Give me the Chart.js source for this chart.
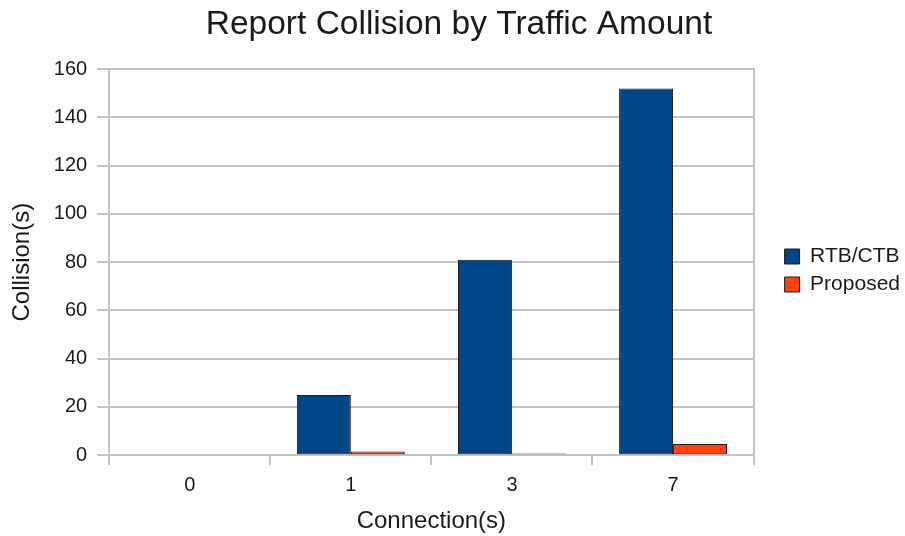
<!DOCTYPE html>
<html>
<head>
<meta charset="utf-8">
<script src="https://cdn.jsdelivr.net/npm/chart.js@4"></script>
<style>
html,body{margin:0;padding:0;background:#fff;}
#wrap{width:905px;height:536px;}
</style>
</head>
<body>
<div id="wrap"><canvas id="c" width="905" height="536"></canvas></div>
<script>
const categories = ['0', '1', '3', '7'];
const rtbCtb = [0, 25, 81, 152];
const proposed = [0, 1.5, 0.7, 4.6];
const seriesNames = ['RTB/CTB', 'Proposed'];
const yTicks = [0, 20, 40, 60, 80, 100, 120, 140, 160];

const FONT = "'Liberation Sans', Arial, sans-serif";
const GRID = '#c3c3c3';
const TXT = '#1a1a1a';
new Chart(document.getElementById('c'), {
  type: 'bar',
  data: {
    labels: categories,
    datasets: [
      { label: seriesNames[0], data: rtbCtb, backgroundColor: '#004586', borderColor: '#1c1c1c', borderWidth: 1, borderSkipped: false },
      { label: seriesNames[1], data: proposed, backgroundColor: '#ff420e', borderColor: '#1c1c1c', borderWidth: 1, borderSkipped: false }
    ]
  },
  options: {
    responsive: false,
    animation: false,
    devicePixelRatio: 1,
    layout: { padding: { left: 8, right: -5, top: 5, bottom: 0 } },
    datasets: { bar: { categoryPercentage: 0.67, barPercentage: 1.0 } },
    plugins: {
      title: {
        display: true,
        text: 'Report Collision by Traffic Amount',
        color: TXT,
        font: { family: FONT, size: 33.5, weight: 'normal' },
        padding: { top: 0, bottom: 24 }
      },
      legend: {
        position: 'right',
        labels: {
          color: TXT,
          font: { family: FONT, size: 21 },
          boxWidth: 15, boxHeight: 15,
          padding: 7
        }
      },
      tooltip: { enabled: false }
    },
    scales: {
      x: {
        grid: { display: true, drawOnChartArea: false, drawTicks: true, tickLength: 10, color: GRID, lineWidth: 2, offset: true },
        border: { display: true, color: GRID, width: 2 },
        ticks: { color: TXT, font: { family: FONT, size: 20 }, padding: 8 },
        title: { display: true, text: 'Connection(s)', color: TXT, font: { family: FONT, size: 24 }, padding: { top: 2, bottom: 0 } }
      },
      y: {
        min: 0, max: 160,
        afterBuildTicks: (s) => { s.ticks = yTicks.map(v => ({ value: v })); },
        grid: { color: GRID, lineWidth: 2, tickLength: 12 },
        border: { display: true, color: GRID, width: 2 },
        ticks: { color: TXT, font: { family: FONT, size: 20 }, padding: 10 },
        title: { display: true, text: 'Collision(s)', color: TXT, font: { family: FONT, size: 24 }, padding: { top: 0, bottom: 7 } }
      },
      yRight: {
        position: 'right',
        min: 0, max: 160,
        grid: { drawOnChartArea: false, drawTicks: false },
        border: { display: true, color: GRID, width: 2 },
        ticks: { display: false },
        afterFit: (s) => { s.width = 24; }
      }
    }
  }
});
</script>
</body>
</html>
